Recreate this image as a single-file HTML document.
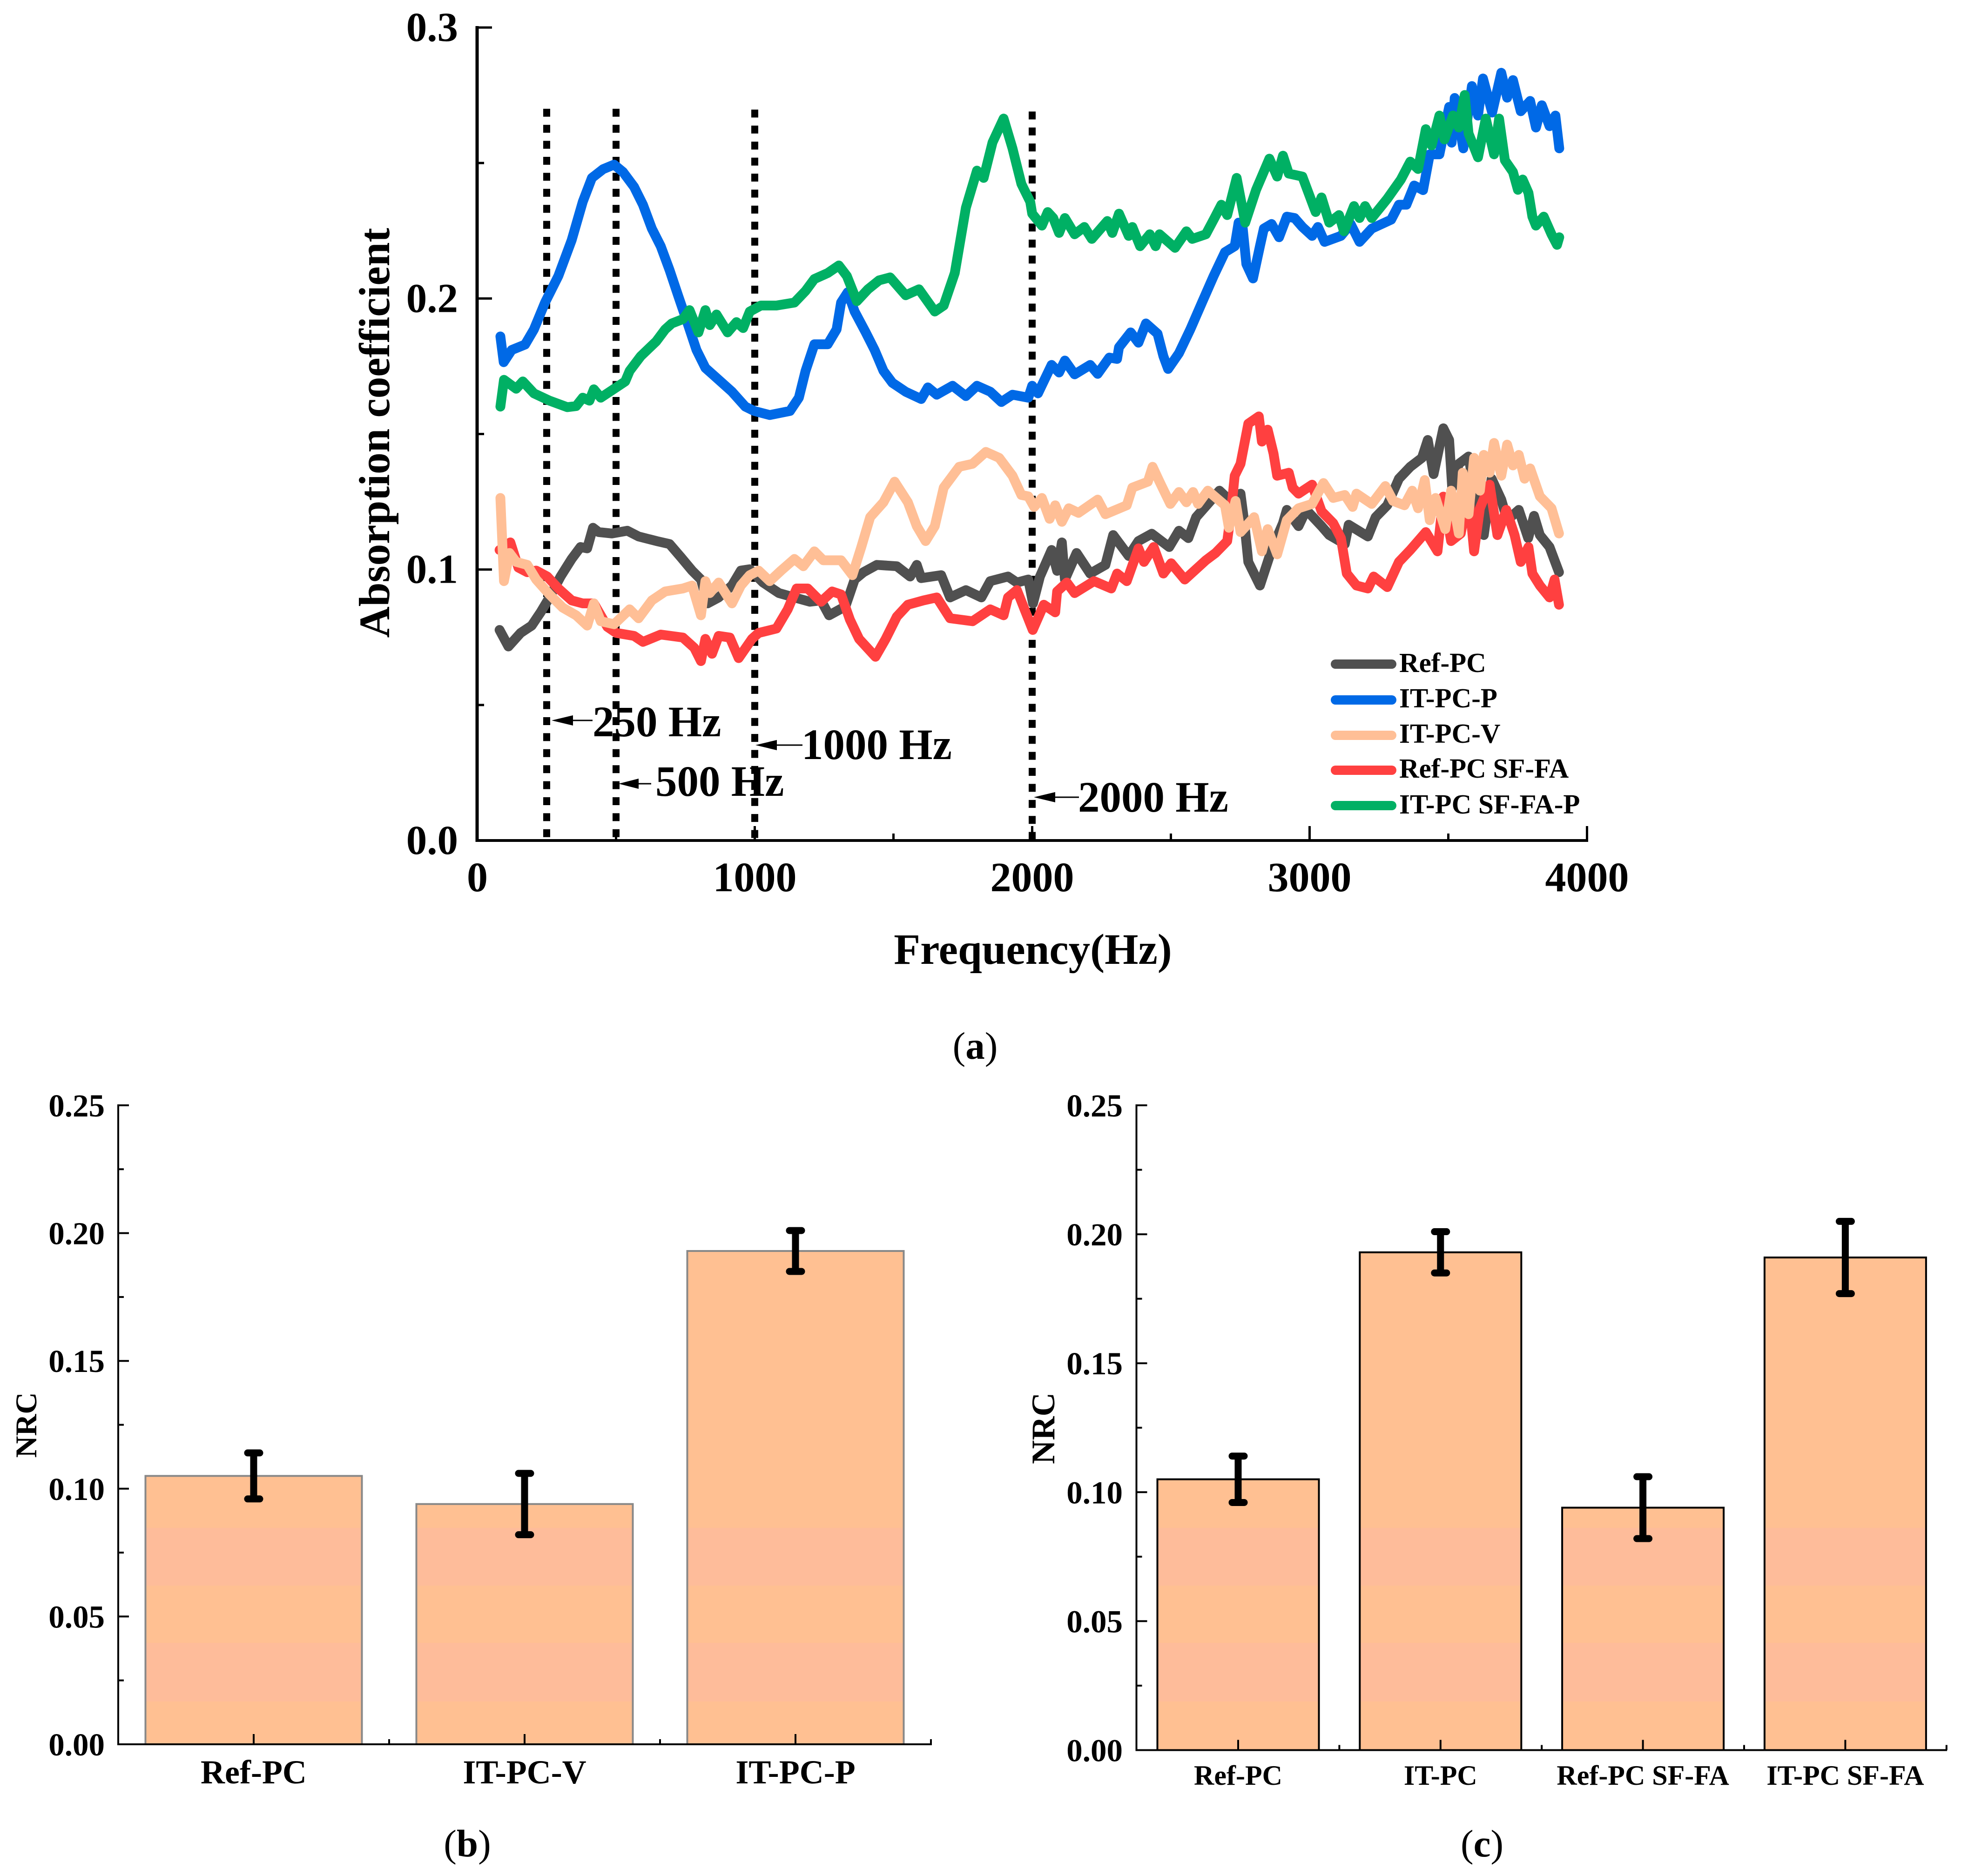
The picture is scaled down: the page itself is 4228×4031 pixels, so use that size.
<!DOCTYPE html>
<html lang="en">
<head>
<meta charset="utf-8">
<title>Absorption coefficient and NRC charts</title>
<style>
html,body{margin:0;padding:0;background:#fff;}
svg{display:block;}
text{font-family:"Liberation Serif",serif;fill:#000;}
.b{font-weight:bold;}
</style>
</head>
<body>
<svg id="fig" xmlns="http://www.w3.org/2000/svg" width="4228" height="4031" viewBox="0 0 4228 4031">
<defs>
<linearGradient id="band" gradientUnits="userSpaceOnUse" x1="0" y1="2300" x2="0" y2="3800">
<stop offset="0.6553" stop-color="#ffc092"/><stop offset="0.6553" stop-color="#febc9a"/>
<stop offset="0.738" stop-color="#febc9a"/><stop offset="0.738" stop-color="#ffc092"/>
<stop offset="0.82" stop-color="#ffc092"/><stop offset="0.82" stop-color="#febc9a"/>
<stop offset="0.904" stop-color="#febc9a"/><stop offset="0.904" stop-color="#ffc092"/>
</linearGradient>
</defs>
<g id="chartA"></g>
<g id="chartB"></g>
<g id="chartC"></g>

<text class="b" font-size="93" text-anchor="middle" transform="translate(836 930) rotate(-90)">Absorption coefficient</text>
<text class="b" font-size="93" text-anchor="middle" x="2219" y="2071">Frequency(Hz)</text>

<g>
<line x1="1210" y1="1548" x2="1273" y2="1548" stroke="#000" stroke-width="3"/><polygon points="1185,1548 1231,1537 1231,1559" fill="#000"/>
<text class="b" font-size="93" x="1273" y="1582">250 Hz</text>
</g>
<g>
<line x1="1350" y1="1684" x2="1399" y2="1684" stroke="#000" stroke-width="3"/><polygon points="1329,1684 1372,1673 1372,1695" fill="#000"/>
<text class="b" font-size="93" x="1408" y="1710">500 Hz</text>
</g>
<g>
<line x1="1650" y1="1601" x2="1724" y2="1601" stroke="#000" stroke-width="3"/><polygon points="1623,1601 1669,1590 1669,1612" fill="#000"/>
<text class="b" font-size="93" x="1722" y="1631">1000 Hz</text>
</g>
<g>
<line x1="2250" y1="1713" x2="2318" y2="1713" stroke="#000" stroke-width="3"/><polygon points="2221,1713 2267,1702 2267,1724" fill="#000"/>
<text class="b" font-size="93" x="2316" y="1744">2000 Hz</text>
</g>

<g>
<g><line x1="2869" y1="1427" x2="2990" y2="1427" stroke="#505050" stroke-width="20" stroke-linecap="round"/><text class="b" font-size="59" x="3006" y="1444">Ref-PC</text></g>
<g><line x1="2869" y1="1504" x2="2990" y2="1504" stroke="#0069e6" stroke-width="20" stroke-linecap="round"/><text class="b" font-size="59" x="3006" y="1520">IT-PC-P</text></g>
<g><line x1="2869" y1="1580" x2="2990" y2="1580" stroke="#ffbf96" stroke-width="20" stroke-linecap="round"/><text class="b" font-size="59" x="3006" y="1596">IT-PC-V</text></g>
<g><line x1="2869" y1="1655" x2="2990" y2="1655" stroke="#ff4040" stroke-width="20" stroke-linecap="round"/><text class="b" font-size="59" x="3006" y="1671">Ref-PC SF-FA</text></g>
<g><line x1="2869" y1="1731" x2="2990" y2="1731" stroke="#00b064" stroke-width="20" stroke-linecap="round"/><text class="b" font-size="59" x="3006" y="1748">IT-PC SF-FA-P</text></g>
</g>

<text class="b" font-size="65" text-anchor="middle" transform="translate(78 3062) rotate(-90)">NRC</text>
<text class="b" font-size="71" text-anchor="middle" transform="translate(2265 3069) rotate(-90)">NRC</text>

<text font-size="83" text-anchor="middle" x="2095" y="2275">(<tspan font-weight="bold">a</tspan>)</text>
<text font-size="83" text-anchor="middle" x="1004" y="3989">(<tspan font-weight="bold">b</tspan>)</text>
<text font-size="83" text-anchor="middle" x="3184" y="3989">(<tspan font-weight="bold">c</tspan>)</text>
</svg>

<script>
// ---- Panel (a) data ----
const aXTicks = [0, 1000, 2000, 3000, 4000];
const aXMinor = [500, 1500, 2500, 3500];
const aYTicks = [0.0, 0.1, 0.2, 0.3];
const aYMinor = [0.05, 0.15, 0.25];
const markerFreqs = [250, 500, 1000, 2000];
const markerTops = [0.27, 0.27, 0.2697, 0.269];

const refPcFreq = [80,112,156,196,228,260,300,340,372,396,417,437,485,541,581,646,693,734,774,806,830,870,918,950,982,1030,1087,1143,1199,1239,1268,1327,1360,1392,1440,1512,1560,1584,1600,1672,1704,1761,1817,1849,1913,1945,1986,2003,2028,2070,2090,2107,2118,2160,2209,2264,2292,2348,2383,2431,2494,2529,2563,2591,2633,2675,2703,2737,2751,2765,2779,2821,2863,2904,2918,2960,2988,3043,3071,3127,3141,3210,3238,3280,3322,3363,3405,3426,3447,3482,3503,3514,3538,3573,3600,3628,3656,3691,3712,3754,3788,3809,3830,3865,3899];
const refPcVal = [.0777,.0716,.0766,.0793,.0842,.0897,.0974,.1039,.1083,.1078,.1154,.1138,.1133,.1143,.1122,.1105,.1094,.1045,.0996,.0963,.0875,.0897,.0941,.0996,.1001,.0952,.0913,.0897,.0881,.0886,.0831,.0864,.0963,.099,.1017,.1012,.0974,.1017,.0968,.0979,.0897,.0924,.0897,.0957,.0974,.0952,.0963,.0875,.0974,.1072,.0995,.11,.0963,.1061,.0985,.1017,.1127,.105,.1105,.1132,.1083,.1143,.1116,.1193,.1242,.1291,.1264,.1264,.128,.1171,.1028,.0941,.1072,.1171,.122,.116,.122,.116,.1127,.1094,.1165,.1122,.1193,.1237,.1335,.1379,.1412,.1478,.1352,.1521,.1478,.1302,.139,.1417,.1258,.1127,.1335,.1258,.1182,.122,.1116,.1198,.1127,.1083,.099];

const redFreq = [80,119,148,180,212,252,292,340,380,420,469,501,565,597,661,741,782,806,822,846,870,910,942,990,1014,1078,1119,1151,1191,1239,1279,1311,1343,1376,1435,1472,1512,1552,1608,1656,1704,1785,1849,1897,1913,1945,2002,2042,2083,2090,2125,2153,2223,2285,2306,2341,2383,2403,2438,2473,2501,2550,2626,2661,2703,2716,2730,2751,2779,2817,2828,2849,2870,2883,2925,2939,2960,3009,3043,3085,3113,3134,3169,3210,3231,3280,3322,3363,3419,3461,3482,3510,3545,3573,3593,3614,3649,3677,3709,3739,3761,3789,3803,3830,3865,3883,3899];
const redVal = [.1072,.11,.1007,.099,.0996,.0974,.093,.0886,.0875,.0875,.0788,.0766,.0755,.0733,.076,.0749,.0711,.0662,.0744,.0689,.0755,.0749,.0673,.0744,.0766,.0782,.0853,.093,.093,.0881,.0919,.0908,.0815,.0744,.0678,.0744,.0826,.087,.0886,.0897,.082,.0809,.0853,.0831,.0897,.0924,.0777,.087,.0842,.0919,.0952,.0913,.0957,.093,.0985,.0957,.1078,.1028,.1083,.0985,.1023,.0963,.1034,.1061,.1105,.1204,.1346,.139,.1538,.1565,.1472,.1516,.1428,.1346,.1357,.1302,.128,.1313,.1215,.1171,.1116,.0985,.0941,.093,.0974,.0935,.1028,.1072,.1138,.1067,.1269,.1105,.1133,.128,.1067,.1226,.1313,.1127,.122,.1127,.1028,.1083,.0985,.0941,.0897,.0963,.087];

const itPcVFreq = [83,96,116,140,180,212,260,308,356,396,420,445,493,549,581,629,677,741,774,806,822,838,870,918,950,982,1014,1054,1095,1143,1175,1215,1247,1311,1352,1384,1416,1464,1504,1552,1584,1616,1649,1681,1737,1785,1833,1881,1929,1961,1986,2007,2035,2063,2083,2107,2132,2167,2236,2264,2341,2361,2417,2434,2459,2498,2529,2556,2580,2598,2633,2695,2709,2733,2751,2800,2828,2849,2883,2918,2960,3009,3050,3085,3127,3155,3169,3224,3273,3301,3342,3370,3391,3415,3433,3454,3489,3510,3538,3552,3573,3593,3614,3628,3649,3665,3691,3712,3733,3754,3775,3795,3830,3872,3899];
const itPcVVal = [.1264,.0957,.1061,.1028,.1017,.0963,.0908,.0859,.0831,.0793,.0875,.0809,.0798,.0853,.082,.0886,.0919,.093,.0941,.0831,.0957,.0913,.0952,.0875,.0941,.0979,.0996,.0957,.0996,.1039,.1012,.1067,.1034,.1034,.0979,.1083,.1193,.1248,.1324,.1248,.116,.1105,.116,.1302,.1379,.139,.1434,.1412,.1346,.1275,.127,.1231,.1264,.1187,.1237,.1176,.1226,.1209,.1258,.1204,.1237,.1302,.1324,.1379,.1324,.1242,.1286,.1248,.1286,.1242,.1291,.1237,.1154,.1253,.1138,.1193,.1067,.1149,.1056,.1182,.1226,.1242,.1319,.1264,.1275,.1231,.128,.1242,.1308,.1253,.1237,.1291,.1226,.133,.1182,.1264,.1149,.1291,.1133,.1357,.1204,.1412,.1291,.1423,.1357,.1467,.1346,.1461,.1384,.1423,.1335,.1373,.127,.1226,.1133];

const itPcPFreq = [83,95,124,172,204,244,292,340,380,413,453,493,525,565,597,629,661,693,725,758,790,822,870,918,966,998,1054,1127,1159,1183,1215,1263,1295,1311,1335,1360,1400,1432,1464,1496,1544,1600,1624,1656,1713,1761,1801,1849,1889,1929,1986,2000,2021,2070,2097,2118,2153,2209,2236,2278,2306,2313,2355,2383,2410,2452,2473,2490,2529,2570,2612,2654,2695,2730,2744,2758,2772,2796,2821,2835,2863,2890,2918,2946,2974,3009,3030,3054,3113,3148,3180,3224,3294,3322,3349,3377,3409,3433,3468,3503,3512,3523,3554,3585,3607,3625,3658,3691,3712,3733,3761,3795,3816,3837,3865,3886,3900];
const itPcPVal = [.186,.1765,.181,.183,.1886,.1985,.2083,.2215,.2357,.2445,.2477,.2494,.2467,.2412,.2346,.2258,.2193,.2105,.2007,.1908,.181,.1744,.17,.1656,.1601,.1585,.157,.1585,.1634,.1733,.1831,.1831,.1886,.1985,.2023,.1952,.1875,.181,.1733,.1689,.1656,.1629,.1672,.1645,.1678,.164,.1678,.1656,.1618,.1645,.1634,.1678,.165,.1755,.1727,.1771,.172,.1755,.1722,.1782,.1777,.182,.1875,.1837,.1908,.187,.1787,.174,.1798,.1886,.1985,.2083,.2171,.2193,.228,.2269,.2127,.2074,.2193,.2258,.2275,.2226,.2302,.2297,.2264,.2231,.2264,.2209,.2231,.2275,.2209,.2258,.2291,.2346,.2346,.2417,.24,.2532,.2532,.2707,.2575,.274,.2554,.2784,.2675,.2812,.2686,.2833,.2741,.2806,.2691,.2729,.2631,.2713,.2636,.2675,.2554];

const itPcSfFaPFreq = [83,96,140,164,204,260,324,356,380,404,420,445,501,533,549,589,645,677,701,741,765,797,822,838,862,902,934,958,982,1022,1078,1143,1183,1215,1263,1303,1332,1368,1408,1448,1488,1544,1592,1649,1681,1721,1761,1801,1825,1857,1897,1929,1961,1993,2000,2035,2056,2076,2097,2118,2153,2188,2215,2271,2289,2313,2348,2361,2389,2424,2445,2459,2515,2556,2577,2626,2654,2682,2703,2737,2768,2807,2855,2883,2904,2925,2974,3016,3022,3043,3071,3106,3124,3160,3180,3200,3224,3280,3329,3363,3391,3419,3440,3468,3486,3517,3538,3559,3573,3607,3635,3665,3683,3704,3733,3751,3768,3789,3803,3816,3844,3872,3892,3900];
const itPcSfFaPVal = [.1601,.17,.1667,.1694,.165,.1623,.1599,.1603,.1634,.1623,.1665,.1634,.1672,.1694,.1733,.1787,.1842,.1886,.1908,.1924,.1957,.1875,.1957,.1902,.1941,.1875,.1913,.1891,.1952,.1974,.1974,.1985,.2028,.2072,.2094,.2122,.2083,.199,.2034,.2067,.2078,.2012,.2034,.1952,.1974,.2094,.2335,.2472,.2445,.2576,.2664,.2554,.2423,.2357,.2313,.2269,.2319,.2297,.2242,.2297,.2237,.2264,.222,.2286,.2242,.2313,.2231,.2264,.2193,.2237,.2193,.2237,.2187,.2248,.222,.2237,.2291,.2346,.2308,.2445,.228,.2401,.2516,.245,.2527,.2461,.245,.2335,.2319,.2373,.228,.2308,.2248,.2341,.2297,.2341,.2297,.2368,.2439,.2505,.2478,.2625,.2565,.2675,.2587,.2675,.2631,.2751,.2609,.2521,.2664,.2532,.2664,.251,.2467,.2401,.2439,.239,.2302,.2269,.2302,.2237,.2198,.2226];

// ---- Panels (b) and (c) data ----
const nrcYTicks = [0.00, 0.05, 0.10, 0.15, 0.20, 0.25];
const nrcYMinor = [0.025, 0.075, 0.125, 0.175, 0.225];
const bCategories = ['Ref-PC', 'IT-PC-V', 'IT-PC-P'];
const bValues = [0.105, 0.094, 0.193];
const bErrors = [0.009, 0.012, 0.008];
const cCategories = ['Ref-PC', 'IT-PC', 'Ref-PC SF-FA', 'IT-PC SF-FA'];
const cValues = [0.105, 0.193, 0.094, 0.191];
const cErrors = [0.009, 0.008, 0.012, 0.014];

const NS = 'http://www.w3.org/2000/svg';
function make(parent, tag, props) {
  const node = document.createElementNS(NS, tag);
  for (const k in props) node.setAttribute(k, props[k]);
  parent.appendChild(node);
  return node;
}

// ---- Panel (a) ----
const gA = document.getElementById('chartA');
const xA = f => 1025.5 + f * 0.596;
const yA = v => 1806 - v * 5823;

const axisYA = make(gA, 'line', {x1: 1025, y1: 56, x2: 1025, y2: 1809, stroke: '#000', 'stroke-width': 7});


const axisXA = make(gA, 'line', {x1: 1022, y1: 1806, x2: 3412, y2: 1806, stroke: '#000', 'stroke-width': 6});



aYTicks.forEach(v => {
  const t = make(gA, 'line', {x1: 1025, x2: 1057, y1: yA(v), y2: yA(v), stroke: '#000', 'stroke-width': 5});
  
  
  const l = make(gA, 'text', {x: 984, y: yA(v) + 29, 'font-size': 89, 'text-anchor': 'end', 'font-weight': 'bold'});
  l.textContent = v.toFixed(1);
  
  
});
aYMinor.forEach(v => {
  const t = make(gA, 'line', {x1: 1025, x2: 1040, y1: yA(v), y2: yA(v), stroke: '#000', 'stroke-width': 5});
  
  
});
aXTicks.forEach(f => {
  const t = make(gA, 'line', {x1: xA(f), x2: xA(f), y1: 1806, y2: 1775, stroke: '#000', 'stroke-width': 5});
  
  
  const l = make(gA, 'text', {x: xA(f), y: 1915, 'font-size': 90, 'text-anchor': 'middle', 'font-weight': 'bold'});
  l.textContent = String(f);
  
  
});
aXMinor.forEach(f => {
  const t = make(gA, 'line', {x1: xA(f), x2: xA(f), y1: 1806, y2: 1791, stroke: '#000', 'stroke-width': 5});
  
  
});

markerFreqs.forEach((f, i) => {
  const m = make(gA, 'line', {x1: xA(f), x2: xA(f), y1: yA(markerTops[i]), y2: 1806, stroke: '#000', 'stroke-width': 15, 'stroke-dasharray': '17 17.4'});
  
  
});

function drawSeries(name, freqs, vals, color) {
  const d = freqs.map((f, i) => (i ? 'L' : 'M') + xA(f).toFixed(1) + ' ' + yA(vals[i]).toFixed(1)).join('');
  const p = make(gA, 'path', {d: d, fill: 'none', stroke: color, 'stroke-width': 21, 'stroke-linejoin': 'round', 'stroke-linecap': 'round'});
  
  
}
drawSeries('ref-pc', refPcFreq, refPcVal, '#505050');
drawSeries('ref-pc-sf-fa', redFreq, redVal, '#ff4040');
drawSeries('it-pc-v', itPcVFreq, itPcVVal, '#ffbf96');
drawSeries('it-pc-p', itPcPFreq, itPcPVal, '#0069e6');
drawSeries('it-pc-sf-fa-p', itPcSfFaPFreq, itPcSfFaPVal, '#00b064');

// ---- Bar panels ----
function barPanel(g, opt, cats, vals, errs) {
  const y = v => opt.y0 - v * opt.perUnit;
  const x = i => opt.c0 + i * opt.step;
  const axisY = make(g, 'line', {x1: opt.ax, x2: opt.ax, y1: opt.y0 - 0.25 * opt.perUnit - 2, y2: opt.y0 + 2, stroke: '#000', 'stroke-width': 4});
  
  
  nrcYTicks.forEach(v => {
    const t = make(g, 'line', {x1: opt.ax, x2: opt.ax + 23, y1: y(v), y2: y(v), stroke: '#000', 'stroke-width': 4});
    
    
    const l = make(g, 'text', {x: opt.labelRight, y: y(v) + 24, 'font-size': 69, 'text-anchor': 'end', 'font-weight': 'bold'});
    l.textContent = v.toFixed(2);
    
    
  });
  nrcYMinor.forEach(v => {
    const t = make(g, 'line', {x1: opt.ax, x2: opt.ax + 12, y1: y(v), y2: y(v), stroke: '#000', 'stroke-width': 4});
    
    
  });
  cats.forEach((c, i) => {
    const bar = make(g, 'rect', {x: x(i) - opt.barW / 2, y: y(vals[i]), width: opt.barW, height: opt.y0 - y(vals[i]), fill: 'url(#band)', stroke: opt.edge, 'stroke-width': opt.edgeW});
    
    
    const top = y(vals[i] + errs[i]);
    const bot = y(vals[i] - errs[i]);
    const eb = make(g, 'path', {d: 'M' + x(i) + ' ' + top + 'V' + bot + 'M' + (x(i) - 13) + ' ' + top + 'H' + (x(i) + 13) + 'M' + (x(i) - 13) + ' ' + bot + 'H' + (x(i) + 13), fill: 'none', stroke: '#000', 'stroke-width': 15, 'stroke-linecap': 'round'});
    
    
    const t = make(g, 'line', {x1: x(i), x2: x(i), y1: opt.y0, y2: opt.y0 - 22, stroke: '#000', 'stroke-width': 4});
    
    
    const m = make(g, 'line', {x1: x(i) + opt.step / 2, x2: x(i) + opt.step / 2, y1: opt.y0, y2: opt.y0 - 11, stroke: '#000', 'stroke-width': 4});
    
    
    const l = make(g, 'text', {x: x(i), y: opt.catY, 'font-size': opt.catSize, 'text-anchor': 'middle', 'font-weight': 'bold'});
    l.textContent = c;
    
    
  });
  const axisX = make(g, 'line', {x1: opt.ax - 2, x2: opt.axEnd, y1: opt.y0, y2: opt.y0, stroke: '#000', 'stroke-width': 4});
  
  
}
barPanel(document.getElementById('chartB'), {y0: 3748, perUnit: 5492, ax: 254, axEnd: 2002, labelRight: 225, c0: 545, step: 582, barW: 465, edge: '#888888', edgeW: 4, catY: 3832, catSize: 72}, bCategories, bValues, bErrors);
barPanel(document.getElementById('chartC'), {y0: 3760.5, perUnit: 5542, ax: 2441.5, axEnd: 4183, labelRight: 2412, c0: 2660, step: 434.8, barW: 347, edge: '#000', edgeW: 4, catY: 3835, catSize: 60}, cCategories, cValues, cErrors);
</script>
</body>
</html>
